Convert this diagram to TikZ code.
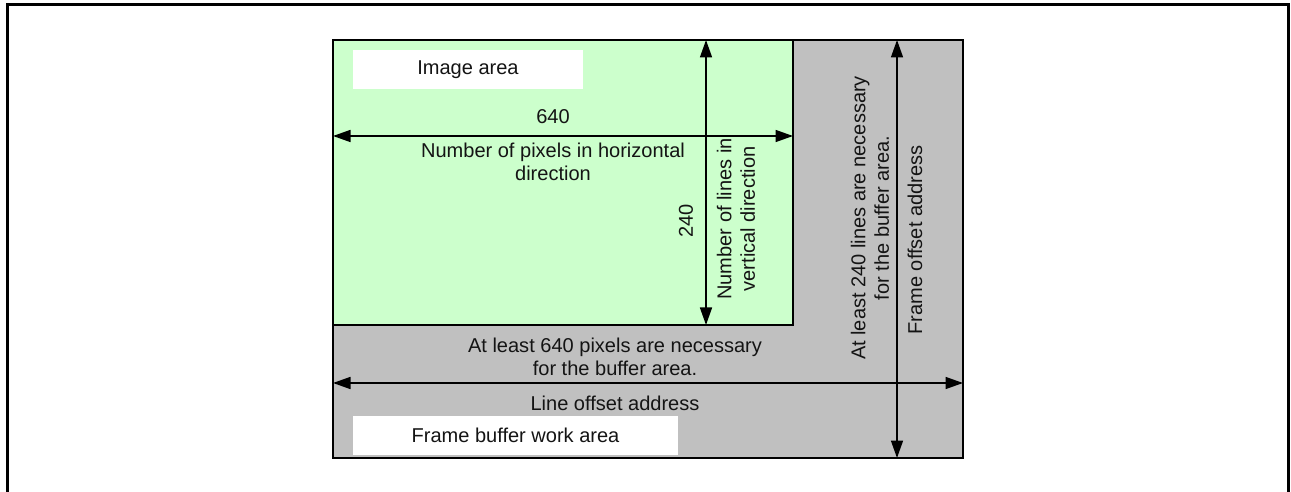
\documentclass[tikz,border=0pt]{standalone}
\usepackage{fontspec}
\setmainfont{Liberation Sans}
\usepackage{tikz}
\usetikzlibrary{arrows.meta, positioning}
\definecolor{imggreen}{RGB}{204,255,204}
\definecolor{bufgray}{RGB}{192,192,192}
\definecolor{txtdark}{RGB}{20,20,20}
\tikzset{
  bufbox/.style={draw=black, fill=bufgray, line width=1.6pt},
  imgbox/.style={draw=black, fill=imggreen, line width=1.6pt},
  whitebox/.style={rectangle, fill=white, inner sep=0pt, text=txtdark},
  dimarrow/.style={{Triangle[length=0.35cm, width=0.24cm]}-{Triangle[length=0.35cm, width=0.24cm]}, line width=0.9pt, color=black},
  lbl/.style={text=txtdark, align=center, inner sep=0pt},
  vlbl/.style={lbl, rotate=90}
}

\begin{document}
\begin{tikzpicture}[x=0.02cm, y=-0.02cm, font=\fontsize{11.4}{13.3}\selectfont]
  \useasboundingbox (0,0) rectangle (1291,492);
  % outer frame (bottom edge lies below the page)
  \draw[line width=1.7pt] (7.5,520) -- (7.5,4.5) -- (1288.5,4.5) -- (1288.5,520);

  % Areas
  \draw[bufbox] (333,40) rectangle (963,458);
  \draw[imgbox] (333,40) rectangle (793,325);

  % Arrow end points
  \coordinate (imgW) at (333,136);
  \coordinate (imgE) at (793,136);
  \coordinate (imgN) at (706,40);
  \coordinate (imgS) at (706,325);
  \coordinate (bufW) at (333,383);
  \coordinate (bufE) at (963,383);
  \coordinate (bufN) at (897,40);
  \coordinate (bufS) at (897,458);

  % Area names
  \node[whitebox, minimum width=4.6cm, minimum height=0.78cm] (imgname) at (468,69.5) {Image area};
  \node[whitebox, minimum width=6.5cm, minimum height=0.78cm] (bufname) at (515.5,435.5) {Frame buffer work area};

  % Dimension arrows
  \draw[dimarrow] (imgW) -- (imgE);
  \draw[dimarrow] (imgN) -- (imgS);
  \draw[dimarrow] (bufW) -- (bufE);
  \draw[dimarrow] (bufN) -- (bufS);

  % Labels
  \node[lbl] (hnum) at (553,117) {640};
  \node[lbl] (htxt) at (553,162) {Number of pixels in horizontal\\direction};
  \node[vlbl] (vnum) at (686,221) {240};
  \node[vlbl] (vtxt) at (736,219) {Number of lines in\\vertical direction};
  \node[lbl] (bhtxt) at (615,357) {At least 640 pixels are necessary\\for the buffer area.};
  \node[lbl] (lineoff) at (615,403) {Line offset address};
  \node[vlbl] (bvtxt) at (870,218) {At least 240 lines are necessary\\for the buffer area.};
  \node[vlbl] (frameoff) at (915,240) {Frame offset address};
\end{tikzpicture}
\end{document}
